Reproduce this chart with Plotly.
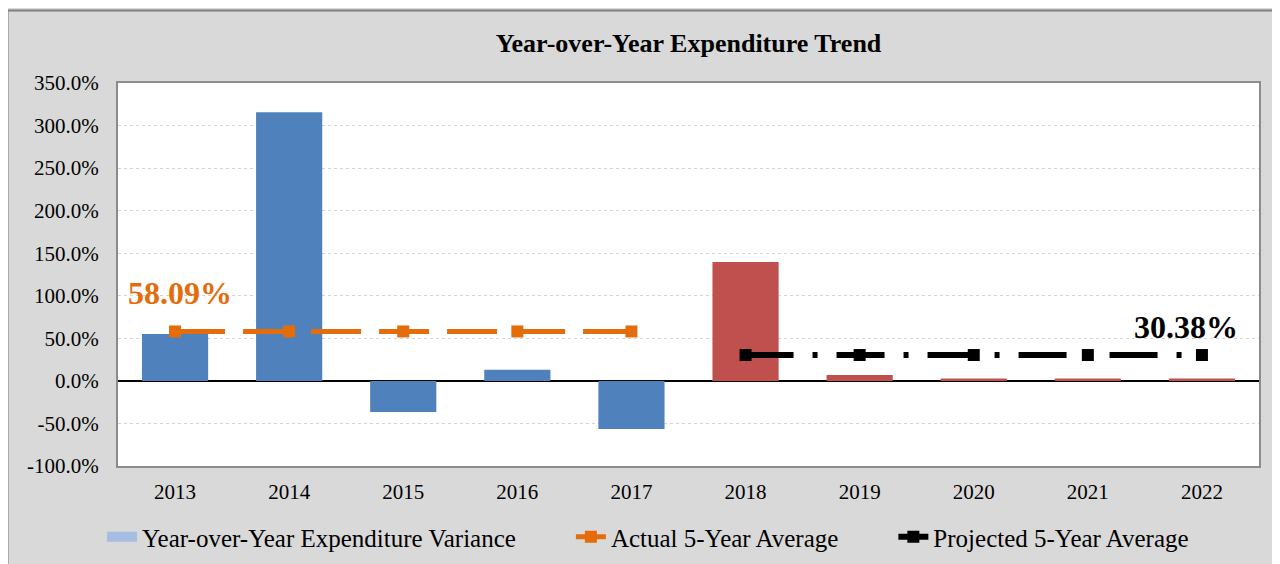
import plotly.graph_objects as go

# --- Data ---
years = ["2013", "2014", "2015", "2016", "2017", "2018", "2019", "2020", "2021", "2022"]
variance = [0.55, 3.155, -0.365, 0.13, -0.565, 1.398, 0.07, 0.028, 0.028, 0.028]
bar_colors = ["#4f81bd"] * 5 + ["#c0504d"] * 5

actual_years = ["2013", "2014", "2015", "2016", "2017"]
actual_avg = [0.5809] * 5
projected_years = ["2018", "2019", "2020", "2021", "2022"]
projected_avg = [0.3038] * 5

y_ticks = [-1.0, -0.5, 0.0, 0.5, 1.0, 1.5, 2.0, 2.5, 3.0, 3.5]

FONT = "Liberation Serif"
W, H = 1280, 564
ML, MT, MR, MB = 110, 75, 29, 106
PW, PH = W - ML - MR, H - MT - MB
NB = "\u00a0"


def px_to_paper(x, y):
    # figure pixel -> paper coords (for the outer frame lines)
    return (x - ML) / PW, 1 - (y - MT) / PH


fig = go.Figure()
fig.add_trace(go.Bar(
    x=years, y=variance, name="Year-over-Year Expenditure Variance",
    marker=dict(color=bar_colors, line=dict(width=0)), showlegend=False,
))
# legend swatch for the two-coloured bar series
fig.add_trace(go.Scatter(
    x=[None], y=[None], mode="lines", name="Year-over-Year Expenditure Variance" + NB * 8,
    line=dict(color="#a7bde2", width=10),
))
fig.add_trace(go.Scatter(
    x=actual_years, y=actual_avg, name="Actual 5-Year Average" + NB * 8,
    mode="lines+markers",
    line=dict(color="#e46c0a", width=5, dash="50px,18px"),
    marker=dict(symbol="square", size=12, color="#e46c0a"),
))
fig.add_trace(go.Scatter(
    x=projected_years, y=projected_avg, name="Projected 5-Year Average",
    mode="lines+markers",
    line=dict(color="black", width=6, dash="48px,19px,5px,19px"),
    marker=dict(symbol="square", size=12, color="black"),
))

# category axis: annotations placed by category index
fig.add_annotation(x=years.index(actual_years[0]), y=actual_avg[0], text="<b>58.09%</b>",
                   showarrow=False, xanchor="center", yanchor="middle", yshift=38, xshift=5,
                   font=dict(family=FONT, size=32, color="#e46c0a"))
fig.add_annotation(x=years.index(projected_years[-1]), y=projected_avg[-1], text="<b>30.38%</b>",
                   showarrow=False, xanchor="right", yanchor="middle", yshift=28, xshift=38,
                   font=dict(family=FONT, size=32, color="black"))

# outer chart frame (left and top edges)
x0, y0 = px_to_paper(-0.5, 2.5)
x1, y1 = px_to_paper(W + 10, H + 10)
fig.add_shape(type="line", xref="paper", yref="paper", x0=x0, y0=y0, x1=x1, y1=y0,
              line=dict(color="#7f7f7f", width=2))
fig.add_shape(type="line", xref="paper", yref="paper", x0=x0, y0=y0, x1=x0, y1=y1,
              line=dict(color="#7f7f7f", width=2))

fig.update_layout(
    width=W, height=H,
    paper_bgcolor="#d9d9d9", plot_bgcolor="white",
    margin=dict(l=ML, r=MR, t=MT, b=MB),
    title=dict(text="<b>Year-over-Year Expenditure Trend</b>", x=0.5, xref="paper",
               y=1 - 35 / H, yanchor="middle",
               font=dict(family=FONT, size=26, color="black")),
    font=dict(family=FONT, size=21, color="black"),
    bargap=0.42,
    showlegend=True,
    legend=dict(orientation="h", x=0.5, xanchor="center", xref="container",
                y=1 - 529 / H, yanchor="middle", yref="container",
                font=dict(family=FONT, size=25), bgcolor="rgba(0,0,0,0)"),
)
fig.update_xaxes(type="category", range=[-0.5, len(years) - 0.5], automargin=False,
                 showline=True, linecolor="#8c8c8c", linewidth=2,
                 mirror=True, ticks="", tickfont=dict(size=21), ticklabelstandoff=6)
fig.update_yaxes(range=[-1.0, 3.5], tickvals=y_ticks, automargin=False,
                 ticktext=[f"{v * 100:.1f}%" for v in y_ticks],
                 showgrid=True, gridcolor="#d4d4d4", gridwidth=1, griddash="dot",
                 zeroline=True, zerolinecolor="black", zerolinewidth=1.5,
                 showline=True, linecolor="#8c8c8c", linewidth=2, mirror=True,
                 ticks="", tickfont=dict(size=21), ticklabelstandoff=13)

fig.write_html("out.html")
